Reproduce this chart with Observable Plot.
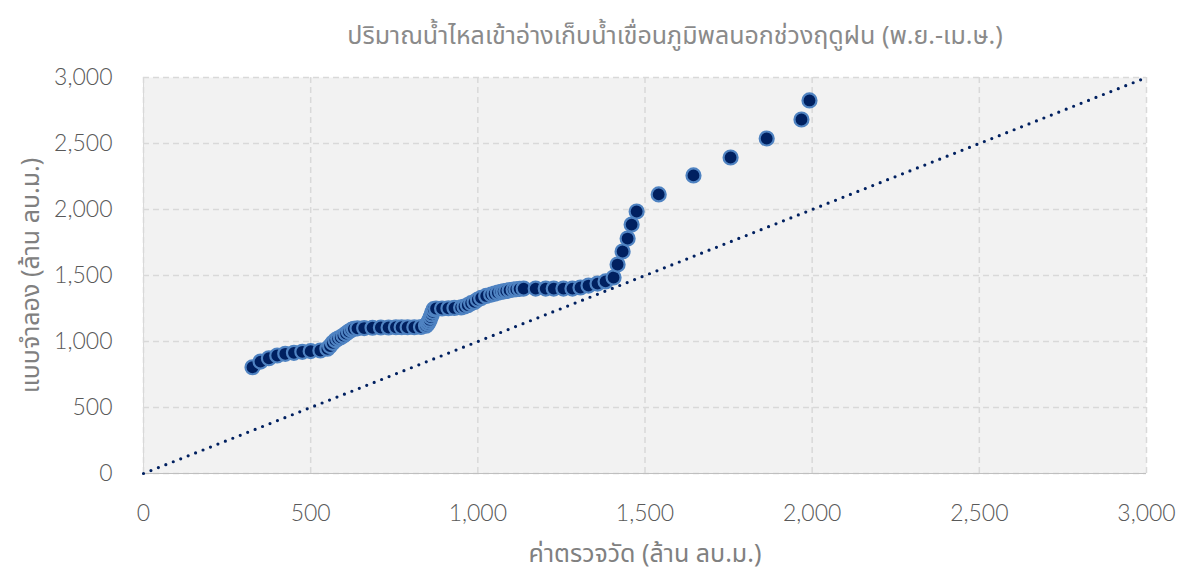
<!DOCTYPE html>
<html>
<head>
<meta charset="utf-8">
<script src="https://cdn.jsdelivr.net/npm/d3@7"></script>
<script src="https://cdn.jsdelivr.net/npm/@observablehq/plot@0.6"></script>
<style>
  html, body { margin: 0; padding: 0; background: #ffffff; }
  #chart { width: 1178px; height: 574px; }
</style>
</head>
<body>
<div id="chart"></div>
<script>
// Observed (ค่าตรวจวัด) and simulated (แบบจำลอง) inflow, million m³
const observed = [
  326, 350, 375, 400, 424, 450, 475, 500, 529,
  550, 558, 566, 574, 582, 590, 598, 606, 614, 622, 629,
  640, 660, 685, 710, 733, 755, 772, 790, 810, 830,
  845, 850, 853, 856, 859, 862, 865, 868,
  875, 893, 912, 930, 950,
  960, 970, 980, 990, 1000, 1010, 1025, 1040, 1050, 1060, 1070, 1077, 1085, 1095, 1107, 1115, 1125, 1137,
  1173, 1203, 1227, 1256, 1283, 1307, 1331, 1358, 1382, 1406, 1418,
  1433, 1448, 1460, 1475, 1541, 1645, 1756, 1864, 1968, 1992
];
const simulated = [
  805, 848, 873, 894, 907, 914, 922, 927, 932,
  945, 965, 990, 1010, 1022, 1032, 1045, 1060, 1075, 1088, 1096,
  1100, 1102, 1104, 1106, 1106, 1108, 1108, 1108, 1108, 1110,
  1120, 1135, 1150, 1165, 1185, 1205, 1225, 1245,
  1250, 1250, 1252, 1254, 1258,
  1265, 1275, 1290, 1300, 1318, 1330, 1345, 1355, 1362, 1370, 1376, 1379, 1383, 1389, 1394, 1396, 1399, 1401,
  1401, 1401, 1401, 1401, 1401, 1409, 1424, 1439, 1455, 1485, 1583,
  1682, 1780, 1886, 1985, 2114, 2258, 2394, 2538, 2682, 2826
];
const lineOfEquality = [0, 3000];
const axisTicks = [0, 500, 1000, 1500, 2000, 2500, 3000];

const titleText = "ปริมาณน้ำไหลเข้าอ่างเก็บน้ำเขื่อนภูมิพลนอกช่วงฤดูฝน (พ.ย.-เม.ษ.)";
const xLabel = "ค่าตรวจวัด (ล้าน ลบ.ม.)";
const yLabel = "แบบจำลอง (ล้าน ลบ.ม.)";

const points = observed.map((x, i) => ({x, y: simulated[i]}));
const diag = lineOfEquality.map(v => ({x: v, y: v}));

const font = "'Noto Sans Thai', 'Sarabun', 'Loma', 'Garuda', 'Noto Sans', sans-serif";
const tickFont = "Lato, 'Noto Sans', sans-serif";
const fmt = d3.format(",");

const chart = Plot.plot({
  width: 1178,
  height: 574,
  marginLeft: 143,
  marginRight: 32,
  marginTop: 77,
  marginBottom: 101,
  style: {fontFamily: font, fontSize: "20px", color: "#595959", background: "#ffffff", overflow: "visible"},
  x: {domain: [0, 3000]},
  y: {domain: [0, 3000]},
  marks: [
    Plot.frame({fill: "#f2f2f2", stroke: null}),
    Plot.gridX(axisTicks, {stroke: "#d9d9d9", strokeOpacity: 1, strokeWidth: 1.5, strokeDasharray: "6,4"}),
    Plot.gridY(axisTicks, {stroke: "#d9d9d9", strokeOpacity: 1, strokeWidth: 1.5, strokeDasharray: "6,4"}),
    Plot.ruleY([0], {stroke: "#bfbfbf", strokeWidth: 1}),
    Plot.ruleX([0], {stroke: "#d9d9d9", strokeWidth: 1}),
    Plot.line(diag, {x: "x", y: "y", stroke: "#002060", strokeWidth: 3.2, strokeDasharray: "0,8", strokeLinecap: "round"}),
    Plot.dot(points, {x: "x", y: "y", r: 7, fill: "#002060", stroke: "#4f83c2", strokeWidth: 2.2}),
    Plot.axisX(axisTicks, {tickFormat: fmt, tickSize: 0, tickPadding: 31, label: null, fontSize: 23, fontFamily: tickFont, fontWeight: 300, fill: "#595959"}),
    Plot.axisY(axisTicks, {tickFormat: fmt, tickSize: 0, tickPadding: 31, label: null, fontSize: 23, fontFamily: tickFont, fontWeight: 300, fill: "#595959"}),
    Plot.text([titleText], {frameAnchor: "top", dx: 30, dy: -42, fontSize: 25, fill: "#8a8a8a", lineAnchor: "middle"}),
    Plot.text([xLabel], {frameAnchor: "bottom", dy: 80, fontSize: 25, fill: "#808080", lineAnchor: "middle"}),
    Plot.text([yLabel], {frameAnchor: "left", dx: -113, rotate: -90, textAnchor: "middle", fontSize: 25, fill: "#808080", lineAnchor: "middle"})
  ]
});
document.getElementById("chart").appendChild(chart);
</script>
</body>
</html>
